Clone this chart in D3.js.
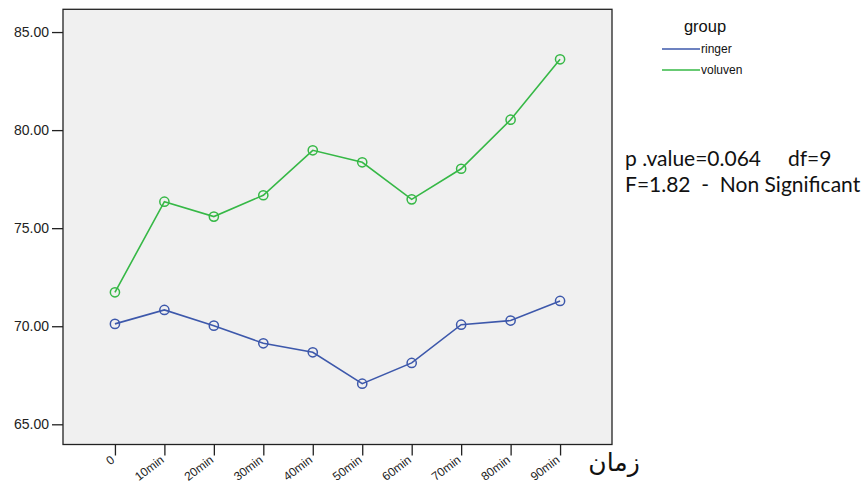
<!DOCTYPE html>
<html>
<head>
<meta charset="utf-8">
<script src="https://cdn.jsdelivr.net/npm/d3@7"></script>
<style>
  html, body { margin: 0; padding: 0; background: #fff; }
  svg { display: block; }
  .note { white-space: pre; }
</style>
</head>
<body>
<svg id="chart" width="864" height="483"></svg>
<script>
const categories = ["0", "10min", "20min", "30min", "40min", "50min", "60min", "70min", "80min", "90min"];
const ringer  = [70.12, 70.83, 70.03, 69.13, 68.67, 67.07, 68.13, 70.08, 70.29, 71.29];
const voluven = [71.73, 76.35, 75.59, 76.68, 78.97, 78.36, 76.47, 78.03, 80.53, 83.61];
const yTicks = [65, 70, 75, 80, 85];
const seriesNames = ["ringer", "voluven"];
const seriesColors = ["#3d58ab", "#36b846"];
const legendTitle = "group";
const xTitle = "زمان";
const noteLines = ["p .value=0.064     df=9", "F=1.82  -  Non Significant"];

const svg = d3.select("#chart");
const pL = 63, pR = 612, pT = 9.3, pB = 444.5;

const x = d3.scalePoint().domain(categories).range([pL, pR]).padding(1.05);
const y = d3.scaleLinear().domain([63.97, 86.16]).range([pB, pT]);

// plot background + frame
svg.append("rect")
  .attr("x", pL).attr("y", pT)
  .attr("width", pR - pL).attr("height", pB - pT)
  .attr("fill", "#f0f0f0").attr("stroke", "#222").attr("stroke-width", 1.3);

// y axis
const yAxis = svg.append("g")
  .attr("transform", `translate(${pL},0)`)
  .call(d3.axisLeft(y).tickValues(yTicks).tickFormat(d3.format(".2f")).tickSize(11).tickPadding(3));
yAxis.select(".domain").remove();
yAxis.selectAll("line").attr("stroke", "#222").attr("stroke-width", 1.3);
yAxis.selectAll("text")
  .attr("font-family", "'Liberation Sans', Arial, sans-serif")
  .attr("font-size", 14).attr("fill", "#222");

// x axis
const xAxis = svg.append("g")
  .attr("transform", `translate(0,${pB})`)
  .call(d3.axisBottom(x).tickSize(11).tickPadding(3));
xAxis.select(".domain").remove();
xAxis.selectAll("line").attr("stroke", "#222").attr("stroke-width", 1.3);
xAxis.selectAll("text")
  .attr("font-family", "'Liberation Sans', Arial, sans-serif")
  .attr("font-size", 12).attr("fill", "#222")
  .attr("text-anchor", "end")
  .attr("y", 0).attr("dy", 0)
  .attr("transform", "translate(0,17) rotate(-37)");

// axis title
svg.append("text")
  .attr("x", 614).attr("y", 471)
  .attr("text-anchor", "middle")
  .attr("font-family", "'DejaVu Sans', sans-serif")
  .attr("font-size", 25).attr("fill", "#111")
  .text(xTitle);

// series
const seriesData = [ringer, voluven];
const line = d3.line().x((d, i) => x(categories[i])).y(d => y(d));
seriesData.forEach((vals, si) => {
  svg.append("path")
    .datum(vals)
    .attr("d", line)
    .attr("fill", "none")
    .attr("stroke", seriesColors[si])
    .attr("stroke-width", 1.6);
  svg.append("g").selectAll("circle")
    .data(vals)
    .join("circle")
    .attr("cx", (d, i) => x(categories[i]))
    .attr("cy", d => y(d))
    .attr("r", 4.6)
    .attr("fill", "none")
    .attr("stroke", seriesColors[si])
    .attr("stroke-width", 1.5);
});

// legend
svg.append("text")
  .attr("x", 705).attr("y", 32)
  .attr("text-anchor", "middle")
  .attr("font-family", "'Liberation Sans', Arial, sans-serif")
  .attr("font-size", 16.5).attr("fill", "#111")
  .text(legendTitle);
seriesNames.forEach((name, i) => {
  const ly = 49 + i * 21;
  svg.append("line")
    .attr("x1", 662).attr("x2", 700).attr("y1", ly).attr("y2", ly)
    .attr("stroke", seriesColors[i]).attr("stroke-width", 1.5);
  svg.append("text")
    .attr("x", 701).attr("y", ly + 4)
    .attr("font-family", "'Liberation Sans', Arial, sans-serif")
    .attr("font-size", 12).attr("fill", "#111")
    .text(name);
});

// note
noteLines.forEach((t, i) => {
  svg.append("text")
    .attr("class", "note")
    .attr("xml:space", "preserve")
    .attr("x", 625).attr("y", 166 + i * 26)
    .attr("font-family", "Lato, 'Open Sans', sans-serif")
    .attr("font-size", 21).attr("fill", "#111")
    .text(t);
});
</script>
</body>
</html>
